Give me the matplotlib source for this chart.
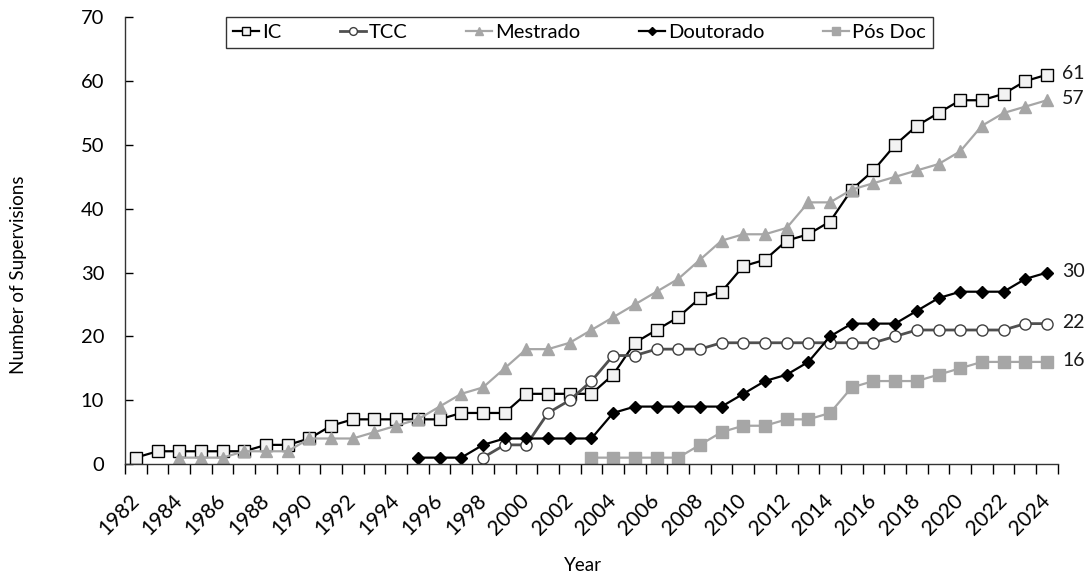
import matplotlib
matplotlib.use("Agg")
import matplotlib.pyplot as plt
from matplotlib.ticker import FixedLocator
import numpy as np

plt.rcParams['font.family'] = ['Lato', 'DejaVu Sans']

# Jahre 1982..2024
years = list(range(1982, 2025))

# Werte
ic = [1, 2, 2, 2, 2, 2, 3, 3, 4, 6, 7, 7, 7, 7, 7, 8, 8, 8, 11, 11, 11, 11,
      14, 19, 21, 23, 26, 27, 31, 32, 35, 36, 38, 43, 46, 50, 53, 55, 57, 57,
      58, 60, 61]
tcc_years = list(range(1998, 2025))
tcc = [1, 3, 3, 8, 10, 13, 17, 17, 18, 18, 18, 19, 19, 19, 19, 19, 19, 19, 19,
       20, 21, 21, 21, 21, 21, 22, 22]
mestrado_years = list(range(1984, 2025))
mestrado = [1, 1, 1, 2, 2, 2, 4, 4, 4, 5, 6, 7, 9, 11, 12, 15, 18, 18, 19, 21,
            23, 25, 27, 29, 32, 35, 36, 36, 37, 41, 41, 43, 44, 45, 46, 47, 49,
            53, 55, 56, 57]
doutorado_years = list(range(1995, 2025))
doutorado = [1, 1, 1, 3, 4, 4, 4, 4, 4, 8, 9, 9, 9, 9, 9, 11, 13, 14, 16, 20,
             22, 22, 22, 24, 26, 27, 27, 27, 29, 30]
posdoc_years = list(range(2003, 2025))
posdoc = [1, 1, 1, 1, 1, 3, 5, 6, 6, 7, 7, 8, 12, 13, 13, 13, 14, 15, 16, 16,
          16, 16]

series_names = ["IC", "TCC", "Mestrado", "Doutorado", "Pós Doc"]

fig = plt.figure(figsize=(10.91, 5.76), dpi=100)
ax = fig.add_axes([0.1146, 0.1944, 0.855, 0.7756])

grau = "#a6a6a6"
ax.plot(years, ic, color="black", lw=1.6, marker="s", ms=8.5,
        mfc="#f2f2f2", mec="black", mew=1.0, label=series_names[0])
ax.plot(tcc_years, tcc, color="#505050", lw=2.0, marker="o", ms=8,
        mfc="white", mec="#404040", mew=1.0, label=series_names[1])
ax.plot(mestrado_years, mestrado, color=grau, lw=1.6, marker="^", ms=9,
        mfc=grau, mec=grau, label=series_names[2])
ax.plot(doutorado_years, doutorado, color="black", lw=1.6, marker="D", ms=6.5,
        mfc="black", mec="black", label=series_names[3])
ax.plot(posdoc_years, posdoc, color=grau, lw=1.6, marker="s", ms=8.5,
        mfc=grau, mec=grau, label=series_names[4])

# Endwerte rechts beschriften
for vals in [ic, mestrado, doutorado, tcc, posdoc]:
    ax.annotate(str(vals[-1]), xy=(years[-1], vals[-1]), xytext=(11, 1),
                textcoords="offset points", ha="left", va="center",
                fontsize=14, color="#1a1a1a", annotation_clip=False)

ax.set_xlim(1981.5, 2024.5)
ax.set_ylim(0, 70)
ax.set_yticks(range(0, 71, 10))
ax.tick_params(axis="y", direction="in", length=6, width=1, pad=15,
               labelsize=14.5)
ax.xaxis.set_major_locator(FixedLocator(years[::2]))
ax.set_xticklabels([str(y) for y in years[::2]])
ax.xaxis.set_minor_locator(FixedLocator(np.arange(1981.5, 2025, 1.0)))
ax.tick_params(axis="x", which="major", length=0, pad=24, labelsize=15)
ax.tick_params(axis="x", which="minor", direction="out", length=7, width=1)
for lbl in ax.get_xticklabels():
    lbl.set_rotation(45)
    lbl.set_ha("right")
    lbl.set_va("center")
    lbl.set_rotation_mode("anchor")

for s in ["top", "right"]:
    ax.spines[s].set_visible(False)
for s in ["left", "bottom"]:
    ax.spines[s].set_linewidth(1.0)
    ax.spines[s].set_color("#333333")

fig.text(0.0165, 0.523, "Number of Supervisions", rotation=90, ha="center",
         va="center", fontsize=13.5)
fig.text(0.534, 0.019, "Year", ha="center", va="center", fontsize=13.5)

leg = ax.legend(loc="upper center", bbox_to_anchor=(0.487, 1.0), ncol=5,
                frameon=True, fancybox=False, edgecolor="black",
                fontsize=14.5, handlelength=1.3, handletextpad=0.15,
                columnspacing=2.9, markerscale=0.7, borderpad=0.35,
                borderaxespad=0.0)
leg.get_frame().set_linewidth(1.0)

fig.savefig("out.png", dpi=100)
